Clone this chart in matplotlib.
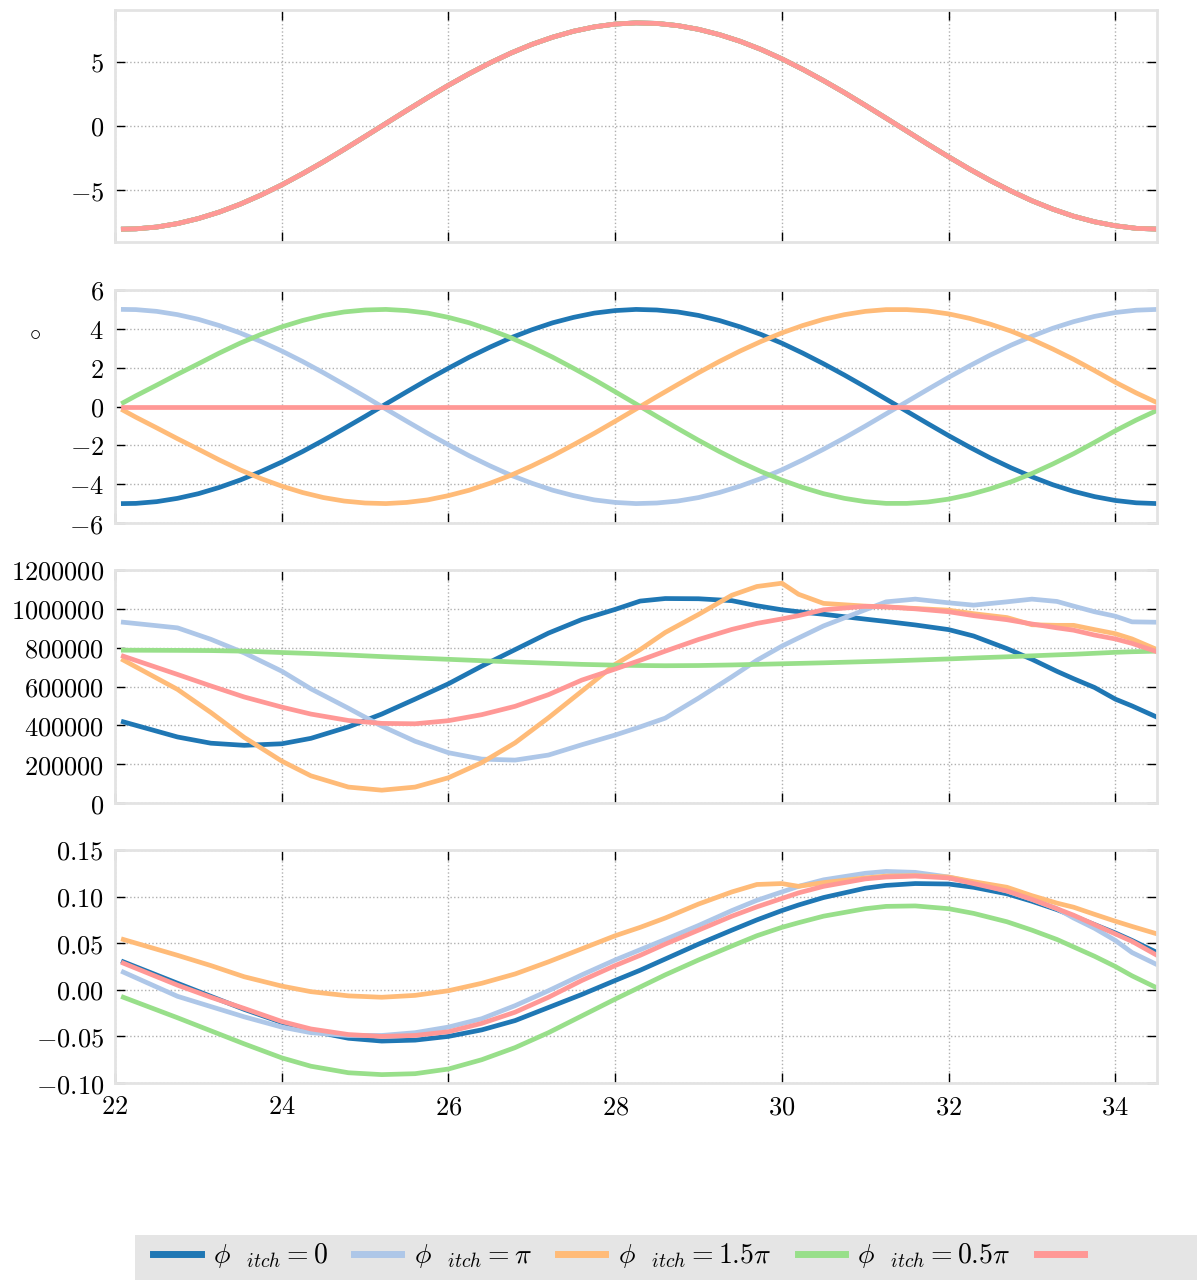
import matplotlib
matplotlib.use("Agg")
import matplotlib.pyplot as plt
from matplotlib.ticker import FuncFormatter, MultipleLocator
from matplotlib.patches import Rectangle
from matplotlib.lines import Line2D

plt.rcParams['mathtext.fontset'] = 'cm'

# ---------------- data ----------------
labels = [r'$\phi_{\quad itch}=0$', r'$\phi_{\quad itch}=\pi$', r'$\phi_{\quad itch}=1.5\pi$',
          r'$\phi_{\quad itch}=0.5\pi$', '']
colors = ['#1f77b4', '#aec7e8', '#ffbb78', '#98df8a', '#ff9896']

# panels 1 & 2 sample positions
t_a = [22.1, 22.25, 22.5, 22.75, 23.0, 23.25, 23.5, 23.75, 24.0, 24.25, 24.5, 24.75, 25.0,
       25.25, 25.5, 25.75, 26.0, 26.25, 26.5, 26.75, 27.0, 27.25, 27.5, 27.75, 28.0, 28.25,
       28.5, 28.75, 29.0, 29.25, 29.5, 29.75, 30.0, 30.25, 30.5, 30.75, 31.0, 31.25, 31.5,
       31.75, 32.0, 32.25, 32.5, 32.75, 33.0, 33.25, 33.5, 33.75, 34.0, 34.25, 34.5]

top_all = [-8.00, -7.98, -7.84, -7.57, -7.18, -6.68, -6.07, -5.36, -4.57, -3.70, -2.78, -1.81,
           -0.81, 0.20, 1.21, 2.20, 3.16, 4.06, 4.90, 5.66, 6.33, 6.89, 7.35, 7.69, 7.91, 8.00,
           7.96, 7.79, 7.50, 7.09, 6.57, 5.94, 5.21, 4.40, 3.52, 2.59, 1.61, 0.61, -0.40, -1.41,
           -2.39, -3.34, -4.23, -5.05, -5.80, -6.45, -7.00, -7.43, -7.74, -7.94, -8.00]

ang_p0 = [-5.00, -4.99, -4.90, -4.73, -4.49, -4.17, -3.79, -3.35, -2.86, -2.32, -1.74, -1.13,
          -0.51, 0.13, 0.76, 1.38, 1.97, 2.54, 3.06, 3.54, 3.95, 4.31, 4.59, 4.81, 4.94, 5.00,
          4.97, 4.87, 4.69, 4.43, 4.10, 3.71, 3.26, 2.75, 2.20, 1.62, 1.01, 0.38, -0.25, -0.88,
          -1.50, -2.09, -2.65, -3.16, -3.62, -4.03, -4.37, -4.64, -4.84, -4.96, -5.00]
ang_pi = [5.00, 4.99, 4.90, 4.73, 4.49, 4.17, 3.79, 3.35, 2.86, 2.32, 1.74, 1.13,
          0.51, -0.13, -0.76, -1.38, -1.97, -2.54, -3.06, -3.54, -3.95, -4.31, -4.59, -4.81,
          -4.94, -5.00, -4.97, -4.87, -4.69, -4.43, -4.10, -3.71, -3.26, -2.75, -2.20, -1.62,
          -1.01, -0.38, 0.25, 0.88, 1.50, 2.09, 2.65, 3.16, 3.62, 4.03, 4.37, 4.64, 4.84, 4.96,
          5.00]
ang_15 = [-0.20, -0.55, -1.10, -1.66, -2.20, -2.75, -3.26, -3.71, -4.10, -4.43, -4.69, -4.87,
          -4.97, -5.00, -4.94, -4.81, -4.59, -4.31, -3.95, -3.54, -3.06, -2.54, -1.97, -1.38,
          -0.76, -0.13, 0.51, 1.13, 1.74, 2.32, 2.86, 3.35, 3.79, 4.17, 4.49, 4.73, 4.90, 4.99,
          4.99, 4.92, 4.77, 4.54, 4.24, 3.88, 3.45, 2.96, 2.43, 1.85, 1.25, 0.70, 0.20]
ang_05 = [0.20, 0.55, 1.10, 1.66, 2.20, 2.75, 3.26, 3.71, 4.10, 4.43, 4.69, 4.87,
          4.97, 5.00, 4.94, 4.81, 4.59, 4.31, 3.95, 3.54, 3.06, 2.54, 1.97, 1.38,
          0.76, 0.13, -0.51, -1.13, -1.74, -2.32, -2.86, -3.35, -3.79, -4.17, -4.49, -4.73,
          -4.90, -4.99, -4.99, -4.92, -4.77, -4.54, -4.24, -3.88, -3.45, -2.96, -2.43, -1.85,
          -1.25, -0.70, -0.20]
ang_last = [0.0] * len(t_a)

# panels 3 & 4 sample positions
t_b = [22.1, 22.75, 23.15, 23.55, 24.0, 24.35, 24.8, 25.2, 25.6, 26.0, 26.4, 26.8, 27.2, 27.6,
       28.0, 28.3, 28.6, 29.0, 29.4, 29.7, 30.0, 30.2, 30.5, 31.0, 31.25, 31.6, 32.0, 32.3,
       32.7, 33.0, 33.3, 33.5, 33.75, 34.0, 34.2, 34.5]

f_p0 = [418000, 340000, 308000, 297000, 305000, 333000, 392000, 458000, 535000, 614000, 705000,
        790000, 875000, 945000, 997000, 1040000, 1053000, 1052000, 1042000, 1016000, 995000,
        985000, 972000, 947000, 935000, 917000, 893000, 860000, 795000, 740000, 678000, 640000,
        595000, 535000, 500000, 442000]
f_pi = [931000, 902000, 843000, 773000, 679000, 588000, 488000, 396000, 318000, 259000, 226000,
        221000, 247000, 300000, 350000, 392000, 437000, 540000, 650000, 735000, 808000, 850000,
        912000, 995000, 1036000, 1050000, 1031000, 1019000, 1036000, 1050000, 1038000, 1014000,
        985000, 962000, 933000, 931000]
f_15 = [736000, 585000, 466000, 338000, 216000, 140000, 82000, 66000, 82000, 130000, 208000,
        310000, 439000, 576000, 714000, 790000, 878000, 971000, 1070000, 1115000, 1132000,
        1075000, 1028000, 1014000, 1010000, 1002000, 993000, 975000, 955000, 918000, 915000,
        915000, 893000, 872000, 845000, 790000]
f_05 = [787000, 786000, 785000, 782000, 775000, 770000, 762000, 754000, 747000, 740000, 733000,
        726000, 720000, 714000, 710000, 708000, 707000, 708000, 711000, 714000, 717000, 719000,
        722000, 728000, 731000, 736000, 742000, 747000, 753000, 758000, 763000, 766000, 771000,
        776000, 779000, 782000]
f_last = [756000, 662000, 603000, 546000, 494000, 458000, 425000, 410000, 408000, 424000, 455000,
          498000, 558000, 633000, 690000, 735000, 782000, 842000, 894000, 925000, 948000, 965000,
          995000, 1013000, 1010000, 1000000, 985000, 965000, 944000, 922000, 902000, 890000,
          865000, 845000, 822000, 779000]

r_p0 = [0.030, 0.007, -0.007, -0.021, -0.035, -0.044, -0.052, -0.055, -0.054, -0.050, -0.043,
        -0.033, -0.019, -0.005, 0.010, 0.021, 0.033, 0.049, 0.064, 0.075, 0.085, 0.091, 0.099,
        0.109, 0.112, 0.114, 0.1135, 0.110, 0.103, 0.095, 0.086, 0.079, 0.070, 0.061, 0.053, 0.040]
r_pi = [0.019, -0.007, -0.018, -0.029, -0.040, -0.046, -0.049, -0.049, -0.046, -0.040, -0.031,
        -0.017, -0.001, 0.016, 0.032, 0.043, 0.054, 0.069, 0.085, 0.096, 0.105, 0.111, 0.118,
        0.125, 0.127, 0.126, 0.121, 0.115, 0.106, 0.097, 0.087, 0.077, 0.066, 0.053, 0.040, 0.027]
r_15 = [0.054, 0.037, 0.026, 0.014, 0.004, -0.002, -0.0065, -0.008, -0.006, -0.001, 0.007,
        0.017, 0.030, 0.044, 0.058, 0.067, 0.077, 0.092, 0.105, 0.113, 0.114, 0.111, 0.115,
        0.120, 0.122, 0.1225, 0.121, 0.116, 0.110, 0.101, 0.093, 0.0886, 0.081, 0.0736, 0.068, 0.060]
r_05 = [-0.008, -0.030, -0.044, -0.058, -0.073, -0.082, -0.089, -0.091, -0.090, -0.085, -0.075,
        -0.062, -0.046, -0.028, -0.010, 0.003, 0.016, 0.032, 0.047, 0.058, 0.067, 0.072, 0.079,
        0.087, 0.0895, 0.090, 0.087, 0.082, 0.073, 0.064, 0.054, 0.046, 0.036, 0.025, 0.015, 0.002]
r_last = [0.0286, 0.005, -0.008, -0.020, -0.034, -0.042, -0.048, -0.050, -0.049, -0.045, -0.036,
          -0.024, -0.008, 0.010, 0.026, 0.037, 0.049, 0.064, 0.079, 0.089, 0.098, 0.104, 0.111,
          0.119, 0.121, 0.122, 0.120, 0.114, 0.106, 0.097, 0.087, 0.080, 0.070, 0.060, 0.052, 0.037]

panel2 = [ang_p0, ang_pi, ang_15, ang_05, ang_last]
panel3 = [f_p0, f_pi, f_15, f_05, f_last]
panel4 = [r_p0, r_pi, r_15, r_05, r_last]

# ---------------- figure ----------------
W, H = 1197, 1280
fig = plt.figure(figsize=(W / 100, H / 100), dpi=100)

left = 115 / W
width = (1157 - 115) / W
boxes = [(10, 242), (290, 523), (570, 803), (850, 1083)]
axes = []
for (tp, bt) in boxes:
    ax = fig.add_axes([left, 1 - bt / H, width, (bt - tp) / H])
    axes.append(ax)

FS = 19
LW = 3.4


def fmt_factory(dec):
    def f(v, pos):
        s = f"{abs(v):.{dec}f}"
        if v < 0 and float(s) != 0:
            return r"$-" + s + "$"
        return "$" + s + "$"
    return FuncFormatter(f)


for i, ax in enumerate(axes):
    for sp in ax.spines.values():
        sp.set_color('#e3e3e3')
        sp.set_linewidth(2)
    ax.tick_params(direction='in', length=7, width=1, colors='black', top=True, right=True,
                   labelsize=FS, pad=8)
    ax.grid(True, linestyle=':', color='#b0b0b0', linewidth=1)
    ax.set_xlim(22, 34.5)
    ax.xaxis.set_major_locator(MultipleLocator(2))
    if i < 3:
        ax.tick_params(labelbottom=False)
    else:
        ax.xaxis.set_major_formatter(fmt_factory(0))
    ax.set_axisbelow(True)

# panel 1
for c in colors:
    axes[0].plot(t_a, top_all, color=c, lw=LW, solid_joinstyle='round')
axes[0].set_ylim(-9, 9)
axes[0].yaxis.set_major_locator(MultipleLocator(5))
axes[0].yaxis.set_major_formatter(fmt_factory(0))

# panel 2
for y, c in zip(panel2, colors):
    axes[1].plot(t_a, y, color=c, lw=LW, solid_joinstyle='round')
axes[1].set_ylim(-6, 6)
axes[1].yaxis.set_major_locator(MultipleLocator(2))
axes[1].yaxis.set_major_formatter(fmt_factory(0))

# panel 3
for y, c in zip(panel3, colors):
    axes[2].plot(t_b, y, color=c, lw=LW, solid_joinstyle='round')
axes[2].set_ylim(0, 1200000)
axes[2].yaxis.set_major_locator(MultipleLocator(200000))
axes[2].yaxis.set_major_formatter(fmt_factory(0))

# panel 4
for y, c in zip(panel4, colors):
    axes[3].plot(t_b, y, color=c, lw=LW, solid_joinstyle='round')
axes[3].set_ylim(-0.10, 0.15)
axes[3].yaxis.set_major_locator(MultipleLocator(0.05))
axes[3].yaxis.set_major_formatter(fmt_factory(2))

# degree mark
fig.text(35 / W, 1 - 333 / H, r'$\circ$', fontsize=16, ha='center', va='center')

# legend background
fig.patches.append(Rectangle((135 / W, 0), 1 - 135 / W, (H - 1235) / H,
                             transform=fig.transFigure, facecolor='#e5e5e5',
                             edgecolor='none', zorder=0))
handles = [Line2D([], [], color=c, lw=5) for c in colors]
fig.legend(handles, labels, loc='upper left', bbox_to_anchor=(145 / W, 1 - 1233 / H),
           ncol=5, frameon=False, fontsize=20, handlelength=1.7, handletextpad=0.45,
           columnspacing=0.95, borderpad=0.3, borderaxespad=0.0)

fig.savefig('out.png', dpi=100)
